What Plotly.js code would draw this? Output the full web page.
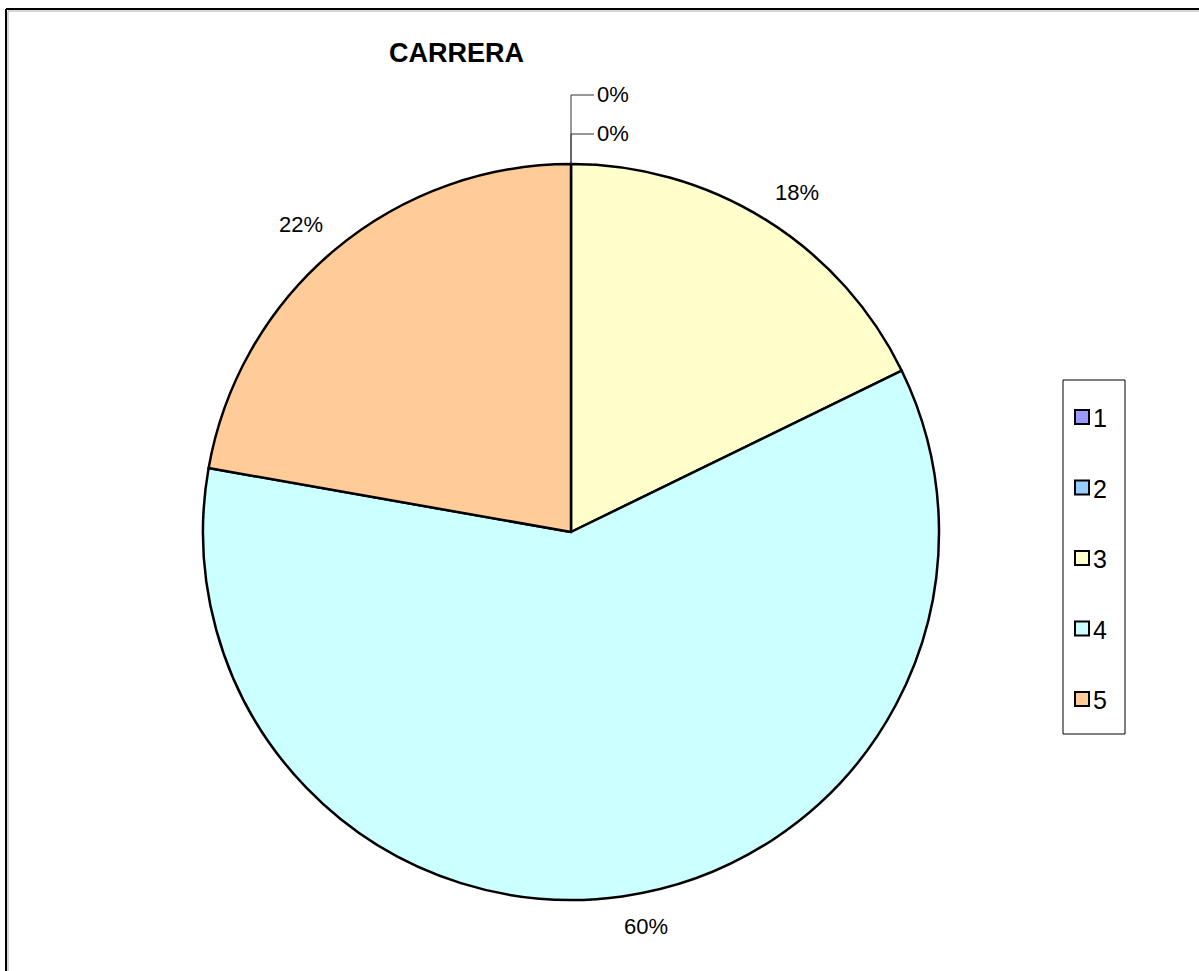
<!DOCTYPE html>
<html>
<head>
<meta charset="utf-8">
<script src="https://cdn.plot.ly/plotly-3.0.1.min.js"></script>
<style>
  html, body { margin: 0; padding: 0; background: #ffffff; }
  #chart { width: 1199px; height: 971px; }
</style>
</head>
<body>
<div id="chart"></div>
<script>
// ---- data ----
const chartTitle = 'CARRERA';
const labels = ['1', '2', '3', '4', '5'];
const values = [0, 0, 8, 27, 10];
const colors = ['#9999FF', '#99CCFF', '#FFFFCC', '#CCFFFF', '#FFCC99'];

// ---- layout helpers (pixel -> paper) ----
const W = 1199, H = 971;
const px = x => x / W;
const py = y => 1 - y / H;

const cx = 571, cy = 532, R = 368;
const FONT = 'Arial, "Liberation Sans", sans-serif';

const total = values.reduce((a, b) => a + b, 0);
const annotations = [];
const shapes = [];

// percentage labels outside the pie
let cum = 0;
let zeroIdx = 0;
const zeroYs = [95, 134];
values.forEach((v, i) => {
  const frac = v / total;
  const pct = Math.round(frac * 100) + '%';
  if (v === 0) {
    const yy = zeroYs[zeroIdx++] || 95;
    const ang = cum * 2 * Math.PI;
    const sx = cx + R * Math.sin(ang);
    shapes.push({type: 'line', xref: 'paper', yref: 'paper',
      x0: px(sx), y0: py(cy - R), x1: px(sx), y1: py(yy),
      line: {color: '#333333', width: 1}});
    shapes.push({type: 'line', xref: 'paper', yref: 'paper',
      x0: px(sx), y0: py(yy), x1: px(sx + 23), y1: py(yy),
      line: {color: '#333333', width: 1}});
    annotations.push({xref: 'paper', yref: 'paper', x: px(sx + 24), y: py(yy),
      xanchor: 'left', yanchor: 'middle', showarrow: false, text: pct,
      font: {family: FONT, size: 22, color: '#000'}});
  } else {
    const mid = (cum + frac / 2) * 2 * Math.PI;
    const L = 387, hw = 21, hh = 11;
    const s = Math.sin(mid), c = Math.cos(mid);
    const lx = cx + L * s + hw * Math.sign(s);
    const ly = cy - L * c - hh * Math.sign(c);
    annotations.push({xref: 'paper', yref: 'paper', x: px(lx), y: py(ly),
      xanchor: 'center', yanchor: 'middle', showarrow: false, text: pct,
      font: {family: FONT, size: 22, color: '#000'}});
  }
  cum += frac;
});

// title
annotations.push({xref: 'paper', yref: 'paper', x: px(456), y: py(53),
  xanchor: 'center', yanchor: 'middle', showarrow: false,
  text: '<b>' + chartTitle + '</b>',
  font: {family: FONT, size: 27, color: '#000'}});

// legend (custom, to match spacing)
shapes.push({type: 'rect', xref: 'paper', yref: 'paper',
  x0: px(1063), y0: py(380), x1: px(1125), y1: py(734),
  line: {color: '#000', width: 1}, fillcolor: 'rgba(0,0,0,0)'});
labels.forEach((lab, i) => {
  const yy = 417 + i * 70.5;
  shapes.push({type: 'rect', xref: 'paper', yref: 'paper',
    x0: px(1075), y0: py(yy - 7), x1: px(1089), y1: py(yy + 7),
    line: {color: '#000', width: 2}, fillcolor: colors[i]});
  annotations.push({xref: 'paper', yref: 'paper', x: px(1091), y: py(yy + 1),
    xanchor: 'left', yanchor: 'middle', showarrow: false, text: lab,
    font: {family: FONT, size: 25, color: '#000'}});
});

// outer chart border (top and left visible)
shapes.push({type: 'line', xref: 'paper', yref: 'paper', x0: px(6), y0: py(9), x1: px(1260), y1: py(9), line: {color: '#000', width: 2}});
shapes.push({type: 'line', xref: 'paper', yref: 'paper', x0: px(6), y0: py(9), x1: px(6), y1: py(1040), line: {color: '#000', width: 2}});
shapes.push({type: 'line', xref: 'paper', yref: 'paper', x0: px(8), y0: py(11), x1: px(1260), y1: py(11), line: {color: '#aaaaaa', width: 1}});
shapes.push({type: 'line', xref: 'paper', yref: 'paper', x0: px(8), y0: py(11), x1: px(8), y1: py(1040), line: {color: '#aaaaaa', width: 1}});

const trace = {
  type: 'pie',
  labels: labels,
  values: values,
  sort: false,
  direction: 'clockwise',
  rotation: 0,
  textinfo: 'none',
  hoverinfo: 'label+percent',
  marker: {colors: colors, line: {color: '#000', width: 2.5}},
  domain: {x: [px(cx - R), px(cx + R)], y: [py(cy + R), py(cy - R)]},
  showlegend: false
};

const layout = {
  width: W, height: H,
  margin: {l: 0, r: 0, t: 0, b: 0},
  paper_bgcolor: '#ffffff',
  showlegend: false,
  annotations: annotations,
  shapes: shapes
};

Plotly.newPlot('chart', [trace], layout, {displayModeBar: false, staticPlot: true});
</script>
</body>
</html>
